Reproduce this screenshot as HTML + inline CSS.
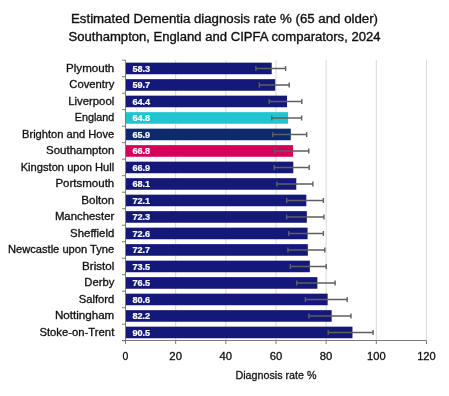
<!DOCTYPE html><html><head><meta charset="utf-8"><style>html,body{margin:0;padding:0;background:#fff;width:449px;height:396px;overflow:hidden}svg{display:block;will-change:transform}text{font-family:"Liberation Sans",sans-serif}</style></head><body>
<svg width="449" height="396" viewBox="0 0 449 396">
<rect width="449" height="396" fill="#fff"/>
<text x="224.5" y="22.7" font-size="12.3" fill="#111" stroke="#111" stroke-width="0.35" text-anchor="middle" textLength="307" lengthAdjust="spacingAndGlyphs">Estimated Dementia diagnosis rate % (65 and older)</text>
<text x="224.5" y="40.7" font-size="12.3" fill="#111" stroke="#111" stroke-width="0.35" text-anchor="middle" textLength="312" lengthAdjust="spacingAndGlyphs">Southampton, England and CIPFA comparators, 2024</text>
<line x1="175.66" y1="60.2" x2="175.66" y2="340.5" stroke="#d9d9d9" stroke-width="1"/>
<line x1="225.82" y1="60.2" x2="225.82" y2="340.5" stroke="#d9d9d9" stroke-width="1"/>
<line x1="275.98" y1="60.2" x2="275.98" y2="340.5" stroke="#d9d9d9" stroke-width="1"/>
<line x1="326.14" y1="60.2" x2="326.14" y2="340.5" stroke="#d9d9d9" stroke-width="1"/>
<line x1="376.30" y1="60.2" x2="376.30" y2="340.5" stroke="#d9d9d9" stroke-width="1"/>
<line x1="426.46" y1="60.2" x2="426.46" y2="340.5" stroke="#d9d9d9" stroke-width="1"/>
<rect x="125.50" y="62.65" width="146.22" height="11.6" fill="#141878"/>
<rect x="125.50" y="79.15" width="149.73" height="11.6" fill="#141878"/>
<rect x="125.50" y="95.65" width="161.52" height="11.6" fill="#141878"/>
<rect x="125.50" y="112.15" width="162.52" height="11.6" fill="#1fc6d2"/>
<rect x="125.50" y="128.65" width="165.28" height="11.6" fill="#0b2b6c"/>
<rect x="125.50" y="145.15" width="167.53" height="11.6" fill="#d5005a"/>
<rect x="125.50" y="161.65" width="167.79" height="11.6" fill="#141878"/>
<rect x="125.50" y="178.15" width="170.79" height="11.6" fill="#141878"/>
<rect x="125.50" y="194.65" width="180.83" height="11.6" fill="#141878"/>
<rect x="125.50" y="211.15" width="181.33" height="11.6" fill="#141878"/>
<rect x="125.50" y="227.65" width="182.08" height="11.6" fill="#141878"/>
<rect x="125.50" y="244.15" width="182.33" height="11.6" fill="#141878"/>
<rect x="125.50" y="260.65" width="184.34" height="11.6" fill="#141878"/>
<rect x="125.50" y="277.15" width="191.86" height="11.6" fill="#141878"/>
<rect x="125.50" y="293.65" width="202.14" height="11.6" fill="#141878"/>
<rect x="125.50" y="310.15" width="206.16" height="11.6" fill="#141878"/>
<rect x="125.50" y="326.65" width="226.97" height="11.6" fill="#141878"/>
<line x1="125.5" y1="60.2" x2="125.5" y2="344" stroke="#7a7a7a" stroke-width="1"/>
<line x1="122" y1="60.20" x2="125.5" y2="60.20" stroke="#7a7a7a" stroke-width="1"/>
<line x1="122" y1="76.70" x2="125.5" y2="76.70" stroke="#7a7a7a" stroke-width="1"/>
<line x1="122" y1="93.20" x2="125.5" y2="93.20" stroke="#7a7a7a" stroke-width="1"/>
<line x1="122" y1="109.70" x2="125.5" y2="109.70" stroke="#7a7a7a" stroke-width="1"/>
<line x1="122" y1="126.20" x2="125.5" y2="126.20" stroke="#7a7a7a" stroke-width="1"/>
<line x1="122" y1="142.70" x2="125.5" y2="142.70" stroke="#7a7a7a" stroke-width="1"/>
<line x1="122" y1="159.20" x2="125.5" y2="159.20" stroke="#7a7a7a" stroke-width="1"/>
<line x1="122" y1="175.70" x2="125.5" y2="175.70" stroke="#7a7a7a" stroke-width="1"/>
<line x1="122" y1="192.20" x2="125.5" y2="192.20" stroke="#7a7a7a" stroke-width="1"/>
<line x1="122" y1="208.70" x2="125.5" y2="208.70" stroke="#7a7a7a" stroke-width="1"/>
<line x1="122" y1="225.20" x2="125.5" y2="225.20" stroke="#7a7a7a" stroke-width="1"/>
<line x1="122" y1="241.70" x2="125.5" y2="241.70" stroke="#7a7a7a" stroke-width="1"/>
<line x1="122" y1="258.20" x2="125.5" y2="258.20" stroke="#7a7a7a" stroke-width="1"/>
<line x1="122" y1="274.70" x2="125.5" y2="274.70" stroke="#7a7a7a" stroke-width="1"/>
<line x1="122" y1="291.20" x2="125.5" y2="291.20" stroke="#7a7a7a" stroke-width="1"/>
<line x1="122" y1="307.70" x2="125.5" y2="307.70" stroke="#7a7a7a" stroke-width="1"/>
<line x1="122" y1="324.20" x2="125.5" y2="324.20" stroke="#7a7a7a" stroke-width="1"/>
<line x1="122" y1="340.70" x2="125.5" y2="340.70" stroke="#7a7a7a" stroke-width="1"/>
<line x1="122" y1="340.5" x2="426.5" y2="340.5" stroke="#7a7a7a" stroke-width="1"/>
<line x1="125.50" y1="340.5" x2="125.50" y2="344" stroke="#7a7a7a" stroke-width="1"/>
<line x1="175.66" y1="340.5" x2="175.66" y2="344" stroke="#7a7a7a" stroke-width="1"/>
<line x1="225.82" y1="340.5" x2="225.82" y2="344" stroke="#7a7a7a" stroke-width="1"/>
<line x1="275.98" y1="340.5" x2="275.98" y2="344" stroke="#7a7a7a" stroke-width="1"/>
<line x1="326.14" y1="340.5" x2="326.14" y2="344" stroke="#7a7a7a" stroke-width="1"/>
<line x1="376.30" y1="340.5" x2="376.30" y2="344" stroke="#7a7a7a" stroke-width="1"/>
<line x1="426.46" y1="340.5" x2="426.46" y2="344" stroke="#7a7a7a" stroke-width="1"/>
<path d="M255.90 68.45H285.60M255.90 65.95V70.95M285.60 65.95V70.95" stroke="#5f5f5f" stroke-width="1.4" fill="none"/>
<path d="M259.40 84.95H289.20M259.40 82.45V87.45M289.20 82.45V87.45" stroke="#5f5f5f" stroke-width="1.4" fill="none"/>
<path d="M269.20 101.45H301.80M269.20 98.95V103.95M301.80 98.95V103.95" stroke="#5f5f5f" stroke-width="1.4" fill="none"/>
<path d="M271.80 117.95H301.60M271.80 115.45V120.45M301.60 115.45V120.45" stroke="#5f5f5f" stroke-width="1.4" fill="none"/>
<path d="M272.70 134.45H306.70M272.70 131.95V136.95M306.70 131.95V136.95" stroke="#5f5f5f" stroke-width="1.4" fill="none"/>
<path d="M274.80 150.95H308.80M274.80 148.45V153.45M308.80 148.45V153.45" stroke="#5f5f5f" stroke-width="1.4" fill="none"/>
<path d="M274.20 167.45H309.20M274.20 164.95V169.95M309.20 164.95V169.95" stroke="#5f5f5f" stroke-width="1.4" fill="none"/>
<path d="M276.90 183.95H312.90M276.90 181.45V186.45M312.90 181.45V186.45" stroke="#5f5f5f" stroke-width="1.4" fill="none"/>
<path d="M286.70 200.45H323.40M286.70 197.95V202.95M323.40 197.95V202.95" stroke="#5f5f5f" stroke-width="1.4" fill="none"/>
<path d="M286.60 216.95H323.90M286.60 214.45V219.45M323.90 214.45V219.45" stroke="#5f5f5f" stroke-width="1.4" fill="none"/>
<path d="M288.70 233.45H323.40M288.70 230.95V235.95M323.40 230.95V235.95" stroke="#5f5f5f" stroke-width="1.4" fill="none"/>
<path d="M287.90 249.95H324.80M287.90 247.45V252.45M324.80 247.45V252.45" stroke="#5f5f5f" stroke-width="1.4" fill="none"/>
<path d="M290.30 266.45H326.20M290.30 263.95V268.95M326.20 263.95V268.95" stroke="#5f5f5f" stroke-width="1.4" fill="none"/>
<path d="M296.70 282.95H335.10M296.70 280.45V285.45M335.10 280.45V285.45" stroke="#5f5f5f" stroke-width="1.4" fill="none"/>
<path d="M305.40 299.45H347.20M305.40 296.95V301.95M347.20 296.95V301.95" stroke="#5f5f5f" stroke-width="1.4" fill="none"/>
<path d="M308.90 315.95H351.00M308.90 313.45V318.45M351.00 313.45V318.45" stroke="#5f5f5f" stroke-width="1.4" fill="none"/>
<path d="M328.20 332.45H373.10M328.20 329.95V334.95M373.10 329.95V334.95" stroke="#5f5f5f" stroke-width="1.4" fill="none"/>
<text x="132.4" y="71.85" font-size="9.3" font-weight="bold" fill="#fff" stroke="#fff" stroke-width="0.2" textLength="17.8" lengthAdjust="spacingAndGlyphs">58.3</text>
<text x="132.4" y="88.35" font-size="9.3" font-weight="bold" fill="#fff" stroke="#fff" stroke-width="0.2" textLength="17.8" lengthAdjust="spacingAndGlyphs">59.7</text>
<text x="132.4" y="104.85" font-size="9.3" font-weight="bold" fill="#fff" stroke="#fff" stroke-width="0.2" textLength="17.8" lengthAdjust="spacingAndGlyphs">64.4</text>
<text x="132.4" y="121.35" font-size="9.3" font-weight="bold" fill="#fff" stroke="#fff" stroke-width="0.2" textLength="17.8" lengthAdjust="spacingAndGlyphs">64.8</text>
<text x="132.4" y="137.85" font-size="9.3" font-weight="bold" fill="#fff" stroke="#fff" stroke-width="0.2" textLength="17.8" lengthAdjust="spacingAndGlyphs">65.9</text>
<text x="132.4" y="154.35" font-size="9.3" font-weight="bold" fill="#fff" stroke="#fff" stroke-width="0.2" textLength="17.8" lengthAdjust="spacingAndGlyphs">66.8</text>
<text x="132.4" y="170.85" font-size="9.3" font-weight="bold" fill="#fff" stroke="#fff" stroke-width="0.2" textLength="17.8" lengthAdjust="spacingAndGlyphs">66.9</text>
<text x="132.4" y="187.35" font-size="9.3" font-weight="bold" fill="#fff" stroke="#fff" stroke-width="0.2" textLength="17.8" lengthAdjust="spacingAndGlyphs">68.1</text>
<text x="132.4" y="203.85" font-size="9.3" font-weight="bold" fill="#fff" stroke="#fff" stroke-width="0.2" textLength="17.8" lengthAdjust="spacingAndGlyphs">72.1</text>
<text x="132.4" y="220.35" font-size="9.3" font-weight="bold" fill="#fff" stroke="#fff" stroke-width="0.2" textLength="17.8" lengthAdjust="spacingAndGlyphs">72.3</text>
<text x="132.4" y="236.85" font-size="9.3" font-weight="bold" fill="#fff" stroke="#fff" stroke-width="0.2" textLength="17.8" lengthAdjust="spacingAndGlyphs">72.6</text>
<text x="132.4" y="253.35" font-size="9.3" font-weight="bold" fill="#fff" stroke="#fff" stroke-width="0.2" textLength="17.8" lengthAdjust="spacingAndGlyphs">72.7</text>
<text x="132.4" y="269.85" font-size="9.3" font-weight="bold" fill="#fff" stroke="#fff" stroke-width="0.2" textLength="17.8" lengthAdjust="spacingAndGlyphs">73.5</text>
<text x="132.4" y="286.35" font-size="9.3" font-weight="bold" fill="#fff" stroke="#fff" stroke-width="0.2" textLength="17.8" lengthAdjust="spacingAndGlyphs">76.5</text>
<text x="132.4" y="302.85" font-size="9.3" font-weight="bold" fill="#fff" stroke="#fff" stroke-width="0.2" textLength="17.8" lengthAdjust="spacingAndGlyphs">80.6</text>
<text x="132.4" y="319.35" font-size="9.3" font-weight="bold" fill="#fff" stroke="#fff" stroke-width="0.2" textLength="17.8" lengthAdjust="spacingAndGlyphs">82.2</text>
<text x="132.4" y="335.85" font-size="9.3" font-weight="bold" fill="#fff" stroke="#fff" stroke-width="0.2" textLength="17.8" lengthAdjust="spacingAndGlyphs">90.5</text>
<text x="114.3" y="71.85" font-size="10.4" fill="#111" stroke="#111" stroke-width="0.3" text-anchor="end" textLength="48.2" lengthAdjust="spacingAndGlyphs">Plymouth</text>
<text x="114.3" y="88.35" font-size="10.4" fill="#111" stroke="#111" stroke-width="0.3" text-anchor="end" textLength="45.0" lengthAdjust="spacingAndGlyphs">Coventry</text>
<text x="114.3" y="104.85" font-size="10.4" fill="#111" stroke="#111" stroke-width="0.3" text-anchor="end" textLength="46.1" lengthAdjust="spacingAndGlyphs">Liverpool</text>
<text x="114.3" y="121.35" font-size="10.4" fill="#111" stroke="#111" stroke-width="0.3" text-anchor="end" textLength="39.6" lengthAdjust="spacingAndGlyphs">England</text>
<text x="114.3" y="137.85" font-size="10.4" fill="#111" stroke="#111" stroke-width="0.3" text-anchor="end" textLength="92.3" lengthAdjust="spacingAndGlyphs">Brighton and Hove</text>
<text x="114.3" y="154.35" font-size="10.4" fill="#111" stroke="#111" stroke-width="0.3" text-anchor="end" textLength="68.2" lengthAdjust="spacingAndGlyphs">Southampton</text>
<text x="114.3" y="170.85" font-size="10.4" fill="#111" stroke="#111" stroke-width="0.3" text-anchor="end" textLength="93.6" lengthAdjust="spacingAndGlyphs">Kingston upon Hull</text>
<text x="114.3" y="187.35" font-size="10.4" fill="#111" stroke="#111" stroke-width="0.3" text-anchor="end" textLength="58.9" lengthAdjust="spacingAndGlyphs">Portsmouth</text>
<text x="114.3" y="203.85" font-size="10.4" fill="#111" stroke="#111" stroke-width="0.3" text-anchor="end" textLength="33.0" lengthAdjust="spacingAndGlyphs">Bolton</text>
<text x="114.3" y="220.35" font-size="10.4" fill="#111" stroke="#111" stroke-width="0.3" text-anchor="end" textLength="59.4" lengthAdjust="spacingAndGlyphs">Manchester</text>
<text x="114.3" y="236.85" font-size="10.4" fill="#111" stroke="#111" stroke-width="0.3" text-anchor="end" textLength="44.2" lengthAdjust="spacingAndGlyphs">Sheffield</text>
<text x="114.3" y="253.35" font-size="10.4" fill="#111" stroke="#111" stroke-width="0.3" text-anchor="end" textLength="106.4" lengthAdjust="spacingAndGlyphs">Newcastle upon Tyne</text>
<text x="114.3" y="269.85" font-size="10.4" fill="#111" stroke="#111" stroke-width="0.3" text-anchor="end" textLength="32.2" lengthAdjust="spacingAndGlyphs">Bristol</text>
<text x="114.3" y="286.35" font-size="10.4" fill="#111" stroke="#111" stroke-width="0.3" text-anchor="end" textLength="30.0" lengthAdjust="spacingAndGlyphs">Derby</text>
<text x="114.3" y="302.85" font-size="10.4" fill="#111" stroke="#111" stroke-width="0.3" text-anchor="end" textLength="35.6" lengthAdjust="spacingAndGlyphs">Salford</text>
<text x="114.3" y="319.35" font-size="10.4" fill="#111" stroke="#111" stroke-width="0.3" text-anchor="end" textLength="59.4" lengthAdjust="spacingAndGlyphs">Nottingham</text>
<text x="114.3" y="335.85" font-size="10.4" fill="#111" stroke="#111" stroke-width="0.3" text-anchor="end" textLength="74.9" lengthAdjust="spacingAndGlyphs">Stoke-on-Trent</text>
<text x="125.50" y="360.2" font-size="10.5" fill="#111" stroke="#111" stroke-width="0.3" text-anchor="middle">0</text>
<text x="175.66" y="360.2" font-size="10.5" fill="#111" stroke="#111" stroke-width="0.3" text-anchor="middle" textLength="12.6" lengthAdjust="spacingAndGlyphs">20</text>
<text x="225.82" y="360.2" font-size="10.5" fill="#111" stroke="#111" stroke-width="0.3" text-anchor="middle" textLength="12.6" lengthAdjust="spacingAndGlyphs">40</text>
<text x="275.98" y="360.2" font-size="10.5" fill="#111" stroke="#111" stroke-width="0.3" text-anchor="middle" textLength="12.6" lengthAdjust="spacingAndGlyphs">60</text>
<text x="326.14" y="360.2" font-size="10.5" fill="#111" stroke="#111" stroke-width="0.3" text-anchor="middle" textLength="12.6" lengthAdjust="spacingAndGlyphs">80</text>
<text x="376.30" y="360.2" font-size="10.5" fill="#111" stroke="#111" stroke-width="0.3" text-anchor="middle" textLength="18.6" lengthAdjust="spacingAndGlyphs">100</text>
<text x="426.46" y="360.2" font-size="10.5" fill="#111" stroke="#111" stroke-width="0.3" text-anchor="middle" textLength="18.6" lengthAdjust="spacingAndGlyphs">120</text>
<text x="276" y="379" font-size="11" fill="#111" stroke="#111" stroke-width="0.3" text-anchor="middle" textLength="81" lengthAdjust="spacingAndGlyphs">Diagnosis rate %</text>
</svg></body></html>
